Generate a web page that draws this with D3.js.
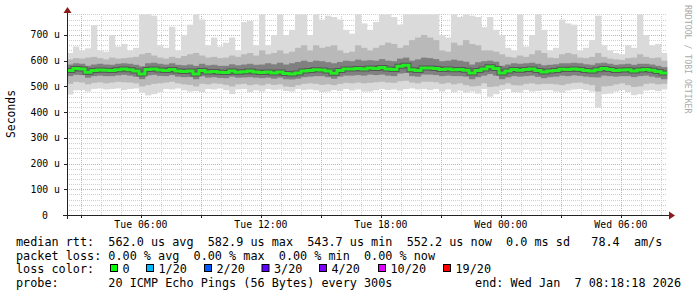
<!DOCTYPE html>
<html><head><meta charset="utf-8">
<script src="https://cdn.jsdelivr.net/npm/d3@7/dist/d3.min.js"></script>
<style>
body{margin:0;background:#fff}
svg{display:block}
text{font-family:"DejaVu Sans Mono",monospace}
</style>
</head><body>
<svg width="697" height="297"></svg>
<script>
// smoke per 18 min column, values in microseconds
const hi=[630,655,640,648,738,640,635,700,655,665,
640,650,780,780,775,660,650,732,640,700,
740,780,760,660,690,655,670,690,640,750,
755,660,780,660,700,780,700,720,780,780,
700,780,760,775,770,760,720,705,780,745,
720,750,780,780,770,740,780,780,780,780,
780,780,700,690,780,770,780,775,770,730,
770,720,700,650,640,780,655,700,780,720,
640,650,760,745,740,640,650,680,775,660,
640,630,625,660,650,780,700,660,665,630]
const hi2=[605,610,608,612,615,610,605,612,608,610,
612,615,625,630,620,612,608,615,610,618,
625,630,620,612,615,610,612,620,615,625,
630,620,640,625,630,640,628,635,650,660,
640,660,650,655,660,640,630,635,660,650,
640,650,660,670,665,650,660,680,690,700,
690,680,640,635,670,660,680,665,660,640,
640,635,625,615,612,620,615,625,640,630,
612,610,625,630,625,612,610,615,630,615,
608,605,603,610,612,625,615,610,612,600]
const hi3=[585,590,588,580,585,588,585,584,588,590,
588,584,578,590,592,588,585,590,584,582,
585,580,588,582,584,580,580,586,582,585,
588,584,585,590,586,592,585,590,595,600,
595,600,598,594,590,595,600,598,604,600,
602,600,606,600,598,608,612,600,605,612,
610,606,598,600,604,600,596,585,594,598,
600,596,580,585,590,588,590,592,588,582,
584,586,590,590,592,590,586,584,590,592,
588,584,586,588,584,588,588,585,580,575]
const med=[562,570,568,555,562,564,563,562,565,568,
565,560,548,566,568,564,562,566,560,558,
560,548,562,556,558,555,554,560,555,557,
560,556,554,556,552,556,550,548,552,560,
562,565,564,560,551,562,568,568,570,568,
572,570,574,568,566,578,582,565,562,572,
572,570,566,568,565,566,563,552,562,568,
576,570,552,560,566,563,566,568,562,556,
560,562,567,566,568,566,562,560,565,570,
566,562,564,565,560,564,566,563,558,552]
const lo3=[540,545,544,534,540,542,540,540,543,545,
542,538,528,543,545,541,540,544,538,536,
537,528,540,534,536,533,532,538,534,535,
536,534,532,534,530,534,528,527,530,536,
538,540,540,536,530,538,542,542,544,542,
546,544,546,542,540,550,552,540,538,546,
546,544,540,542,540,540,538,528,536,542,
548,542,528,535,540,538,540,542,537,532,
536,538,542,540,543,541,538,536,535,542,
540,538,540,540,536,540,542,538,534,528]
const lo2=[510,518,515,508,514,516,512,515,518,516,
515,512,500,505,510,512,515,518,512,508,
506,500,510,508,512,510,506,500,508,510,
505,508,504,510,506,508,500,498,505,510,
512,510,506,508,505,510,514,512,515,512,
514,516,518,515,514,520,522,515,512,518,
518,516,510,514,508,512,505,500,502,512,
498,500,506,512,505,504,510,512,508,510,
510,508,505,510,514,515,510,505,480,500,
502,508,512,505,498,500,510,512,508,510]
const lo=[468,485,486,480,490,492,488,490,492,486,
490,492,475,465,470,478,490,488,492,485,
480,482,478,490,488,492,485,470,488,490,
478,485,480,490,486,488,482,480,490,486,
488,485,478,480,486,482,490,484,488,480,
480,485,490,486,488,484,490,492,488,490,
486,490,480,488,478,484,476,480,472,490,
460,470,485,490,478,476,486,480,482,485,
485,480,476,484,488,490,486,480,418,470,
472,480,486,478,466,470,484,486,482,488]

const yTicks=[0,100,200,300,400,500,600,700]
const xLabels=["Tue 06:00","Tue 12:00","Tue 18:00","Wed 00:00","Wed 06:00"]
const xLabelTimes=[new Date(2026,0,6,6),new Date(2026,0,6,12),new Date(2026,0,6,18),new Date(2026,0,7,0),new Date(2026,0,7,6)]
const lossLabels=["0","1/20","2/20","3/20","4/20","10/20","19/20"]
const lossColors=["#00ff00","#00b8ff","#0059ff","#5e00ff","#7e00ff","#dd00ff","#ff0000"]
const legend=[
"median rtt:  562.0 us avg  582.9 us max  543.7 us min  552.2 us now  0.0 ms sd   78.4  am/s",
"packet loss: 0.00 % avg  0.00 % max  0.00 % min  0.00 % now",
"loss color:",
"probe:       20 ICMP Echo Pings (56 Bytes) every 300s"]
const endText="end: Wed Jan  7 08:18:18 2026"

const svg=d3.select("svg")
const end=new Date(2026,0,7,8,18,18)
const start=new Date(end.getTime()-30*3600e3)
const step=18*60e3
const x=d3.scaleTime().domain([start,end]).range([67,667])
const y=d3.scaleLinear().domain([0,780]).range([215,14.4])
const ct=i=>new Date(start.getTime()+i*step)
const cy=v=>y(Math.min(v,780))

// grid
const g=svg.append("g").attr("shape-rendering","crispEdges")
d3.range(20,781,20).forEach(v=>{
let maj=v%100==0
g.append("line").attr("x1",67).attr("x2",667).attr("y1",Math.round(y(v))+.5).attr("y2",Math.round(y(v))+.5)
.attr("stroke",maj?"#e6a3a3":"#cfcfcf").attr("stroke-dasharray","1,1")
})
d3.timeHour.range(start,end).forEach(t=>{
let maj=t.getHours()%3==0
let px=Math.round(x(t))+.5
g.append("line").attr("x1",px).attr("x2",px).attr("y1",14).attr("y2",215)
.attr("stroke",maj?"#e6a3a3":"#cfcfcf").attr("stroke-dasharray","1,1")
})

// smoke
const layer=(a,b,col)=>{
svg.append("g").selectAll("rect").data(a).join("rect")
.attr("x",(d,i)=>x(ct(i))).attr("width",(d,i)=>x(ct(i+1))-x(ct(i))+.3)
.attr("y",(d,i)=>cy(d)).attr("height",(d,i)=>cy(b[i])-cy(d))
.attr("fill",col)
}
layer(hi,lo,"#dadada")
layer(hi2,lo2,"#b9b9b9")
layer(hi3,lo3,"#808080")

// median
const mline=d3.line().x(d=>x(d[0])).y(d=>y(d[1])).curve(d3.curveStepAfter)
const mpts=med.map((v,i)=>[ct(i),v]).concat([[end,med[med.length-1]]])
svg.append("path").attr("d",mline(mpts)).attr("fill","none").attr("stroke","#333").attr("stroke-width",5).attr("opacity",.55)
svg.append("path").attr("d",mline(mpts)).attr("fill","none").attr("stroke","#22ee22").attr("stroke-width",3)

// axes
const ax=svg.append("g").attr("shape-rendering","crispEdges")
ax.append("line").attr("x1",63).attr("x2",669).attr("y1",215.5).attr("y2",215.5).attr("stroke","#222")
ax.append("line").attr("x1",67.5).attr("x2",67.5).attr("y1",219).attr("y2",12).attr("stroke","#222")
d3.timeHour.range(start,end).filter(t=>t.getHours()%3==0).forEach(t=>{
let px=Math.round(x(t))+.5
ax.append("line").attr("x1",px).attr("x2",px).attr("y1",215).attr("y2",218).attr("stroke","#222")
})
yTicks.forEach(v=>{
let py=Math.round(y(v))+.5
ax.append("line").attr("x1",64).attr("x2",67).attr("y1",py).attr("y2",py).attr("stroke","#222")
})
svg.append("path").attr("d","M63.5,13L71.5,13L67.5,7Z").attr("fill","#8b1a1a")
svg.append("path").attr("d","M669,211.5L669,219.5L675,215.5Z").attr("fill","#8b1a1a")

// labels
svg.selectAll(".yl").data(yTicks).join("text").attr("class","yl")
.attr("x",d=>d==0?48:60).attr("y",d=>y(d)+3.5).attr("text-anchor","end")
.attr("font-size","9.8px").attr("fill","#000").text(d=>d==0?"0":d+" u")
svg.selectAll(".xl").data(xLabels).join("text").attr("class","xl")
.attr("x",(d,i)=>x(xLabelTimes[i])).attr("y",228).attr("text-anchor","middle")
.attr("font-size","9.8px").attr("fill","#000").text(d=>d)
svg.append("text").attr("transform","translate(15,114) rotate(-90)").attr("text-anchor","middle")
.attr("font-size","11.4px").attr("fill","#000").text("Seconds")
svg.append("text").attr("transform","translate(685,5) rotate(90)")
.attr("font-size","8.2px").attr("fill","#aaa").text("RRDTOOL / TOBI OETIKER")

// legend
const ly=[245.5,259.5,273,287]
legend.forEach((s,i)=>{
svg.append("text").attr("x",16).attr("y",ly[i]).attr("font-size","11.8px").attr("fill","#000")
.attr("xml:space","preserve").style("white-space","pre").text(s)
})
const bx=[110,146,204,261.5,319,378,443]
lossLabels.forEach((s,i)=>{
svg.append("rect").attr("x",bx[i]+.5).attr("y",264.5).attr("width",7).attr("height",7)
.attr("fill",lossColors[i]).attr("stroke","#000")
svg.append("text").attr("x",bx[i]+12.5).attr("y",ly[2]).attr("font-size","11.8px").attr("fill","#000").text(s)
})
svg.append("text").attr("x",681).attr("y",ly[3]).attr("text-anchor","end").attr("font-size","11.8px")
.attr("xml:space","preserve").style("white-space","pre").attr("fill","#000").text(endText)
</script>
</body></html>
